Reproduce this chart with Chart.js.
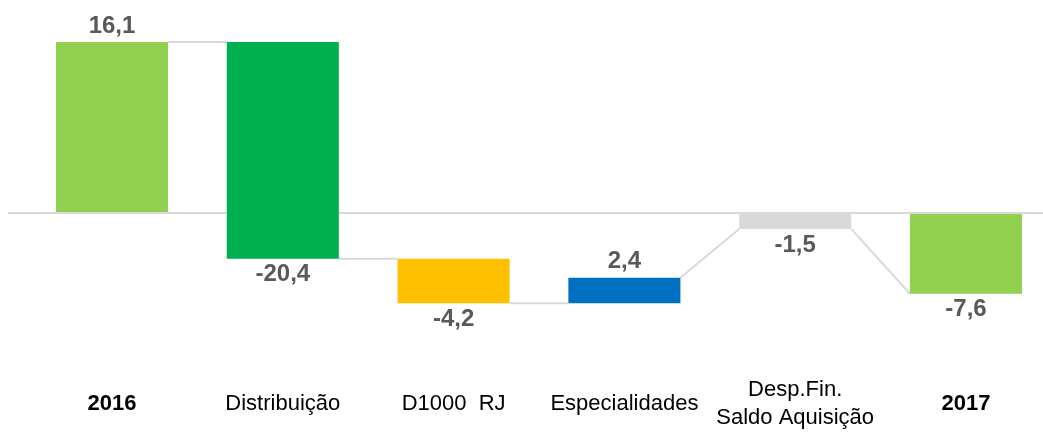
<!DOCTYPE html>
<html>
<head>
<meta charset="utf-8">
<script src="https://cdn.jsdelivr.net/npm/chart.js@4.4.1/dist/chart.umd.min.js"></script>
<style>
  html,body{margin:0;padding:0;background:#fff}
  #c{display:block}
</style>
</head>
<body>
<canvas id="c" width="1043" height="432"></canvas>
<script>
// dados (cascata 2016 -> 2017)
const categories = ['2016', 'Distribuição', 'D1000  RJ', 'Especialidades', ['Desp.Fin.', 'Saldo Aquisição'], '2017'];
const deltas  = [16.1, -20.4, -4.2, 2.4, -1.5, -7.6];
const barFrom = [0, 16.1, -4.3, -8.5, 0, 0];
const barTo   = [16.1, -4.3, -8.5, -6.1, -1.5, -7.6];
// linhas de ligação entre barras (nível de saída / nível de chegada)
const linkFrom = [16.1, -4.3, -8.5, -6.1, -1.5];
const linkTo   = [16.1, -4.3, -8.5, -1.5, -7.6];
const colors = ['#92D050', '#00B050', '#FFC000', '#0070C0', '#D9D9D9', '#92D050'];
const boldCats = [0, 5];

const FONT = "'Liberation Sans', Arial, sans-serif";
const fmt = v => v.toLocaleString('pt-BR', {minimumFractionDigits:1, maximumFractionDigits:1});

const waterfall = {
  id: 'waterfall',
  beforeDatasetsDraw(chart){
    const ctx = chart.ctx, y = chart.scales.y, bars = chart.getDatasetMeta(0).data;
    ctx.save();
    ctx.strokeStyle = '#D9D9D9'; ctx.lineWidth = 2;
    linkFrom.forEach(function(v, i){
      const a = bars[i], b = bars[i+1];
      ctx.beginPath();
      ctx.moveTo(a.x + a.width/2, y.getPixelForValue(v));
      ctx.lineTo(b.x - b.width/2, y.getPixelForValue(linkTo[i]));
      ctx.stroke();
    });
    ctx.restore();
  },
  afterDatasetsDraw(chart){
    const ctx = chart.ctx, y = chart.scales.y, bars = chart.getDatasetMeta(0).data;
    ctx.save();
    ctx.font = 'bold 24px ' + FONT;
    ctx.fillStyle = '#595959';
    ctx.textAlign = 'center'; ctx.textBaseline = 'middle';
    deltas.forEach(function(d, i){
      const p1 = y.getPixelForValue(barFrom[i]), p2 = y.getPixelForValue(barTo[i]);
      const ty = d > 0 ? Math.min(p1, p2) - 16 : Math.max(p1, p2) + 16;
      ctx.fillText(fmt(d), bars[i].x, ty);
    });
    ctx.restore();
  }
};

new Chart(document.getElementById('c').getContext('2d'), {
  type: 'bar',
  data: {
    datasets: [{
      data: categories.map((c, i) => ({x: i, y: [barFrom[i], barTo[i]]})),
      backgroundColor: colors,
      borderWidth: 0,
      borderSkipped: false,
      barPercentage: 0.656,
      categoryPercentage: 1
    }]
  },
  options: {
    responsive: false,
    animation: false,
    layout: { padding: { left: 8, right: 0, top: 0, bottom: 1 } },
    plugins: { legend: {display: false}, tooltip: {enabled: false} },
    scales: {
      x: {
        type: 'linear', min: -0.609, max: 5.451, offset: false,
        grid: {display: false}, border: {display: false},
        afterBuildTicks: s => { s.ticks = categories.map((c, i) => ({value: i})); },
        afterFit: s => { s.height = 86; },
        ticks: {
          padding: 37, color: '#000', maxRotation: 0, autoSkip: false, crossAlign: 'center',
          font: c => ({family: FONT, size: 22, lineHeight: 1.25, weight: boldCats.includes(c.index) ? 'bold' : 'normal'}),
          callback: v => categories[v]
        }
      },
      y: {
        min: -12.43, max: 20.06,
        border: {display: false},
        ticks: {display: false},
        grid: { drawTicks: false, lineWidth: 2, color: c => c.tick && c.tick.value === 0 ? '#D9D9D9' : 'rgba(0,0,0,0)' },
        afterFit: s => { s.width = 0; }
      }
    }
  },
  plugins: [waterfall]
});
</script>
</body>
</html>
